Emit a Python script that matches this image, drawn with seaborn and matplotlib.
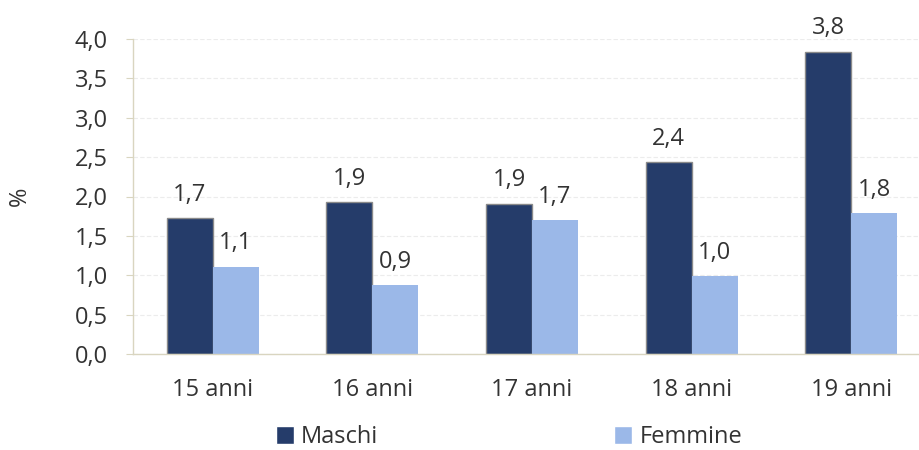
import pandas as pd
import matplotlib.pyplot as plt
import seaborn as sns

# dati
eta = ['15 anni', '16 anni', '17 anni', '18 anni', '19 anni']
maschi = [1.73, 1.93, 1.91, 2.44, 3.84]
femmine = [1.11, 0.87, 1.70, 0.99, 1.79]
gruppi = ['Maschi', 'Femmine']
colori = ['#253C6A', '#9BB8E8']

df = pd.DataFrame({
    'eta': eta * 2,
    'valore': maschi + femmine,
    'sesso': ['Maschi'] * len(eta) + ['Femmine'] * len(eta),
})

sns.set_style('white')
plt.rcParams['font.family'] = ['Open Sans', 'DejaVu Sans']

fig = plt.figure(figsize=(9.19, 4.5), dpi=100)
ax = fig.add_axes([133 / 919, 96 / 450, 798 / 919, 315 / 450])

sns.barplot(data=df, x='eta', y='valore', hue='sesso', hue_order=gruppi,
            palette=colori, width=0.576, gap=0, saturation=1, ax=ax, legend=False)

# bordo grigio sulle barre dei maschi
for bar in ax.containers[0]:
    bar.set_edgecolor('#8a8a8a')
    bar.set_linewidth(1.0)
for bar in ax.containers[1]:
    bar.set_linewidth(0)

for cont in ax.containers:
    ax.bar_label(cont, labels=[f'{b.get_height():.1f}'.replace('.', ',') for b in cont],
                 padding=8, fontsize=17, color='#333333')

ax.set_ylim(0, 4)
ax.set_xlim(-0.5, 4.5)
ax.set_yticks([i * 0.5 for i in range(9)])
ax.set_yticklabels([f'{i * 0.5:.1f}'.replace('.', ',') for i in range(9)])
ax.tick_params(axis='y', labelsize=17, labelcolor='#333333', length=5,
               color='#d9d5c0', pad=13, left=True)
ax.tick_params(axis='x', labelsize=17, labelcolor='#333333', length=0, pad=17)
ax.grid(axis='y', color='#ececec', linestyle=(0, (4, 2)), linewidth=0.8)
ax.set_axisbelow(True)

for s in ['top', 'right']:
    ax.spines[s].set_visible(False)
for s in ['left', 'bottom']:
    ax.spines[s].set_color('#d9d5c0')
    ax.spines[s].set_linewidth(1.0)

ax.set_xlabel('')
ax.set_ylabel('%', fontsize=17, color='#333333', labelpad=31)

handles = [plt.Rectangle((0, 0), 1, 1, facecolor=c) for c in colori]
fig.legend(handles, gruppi, loc='lower center', bbox_to_anchor=(509 / 919, 0.002),
           ncol=2, frameon=False, fontsize=17, handlelength=0.76, handleheight=0.76,
           handletextpad=0.3, columnspacing=10, labelcolor='#333333',
           borderpad=0, borderaxespad=0)

fig.savefig('out.png', dpi=100)
